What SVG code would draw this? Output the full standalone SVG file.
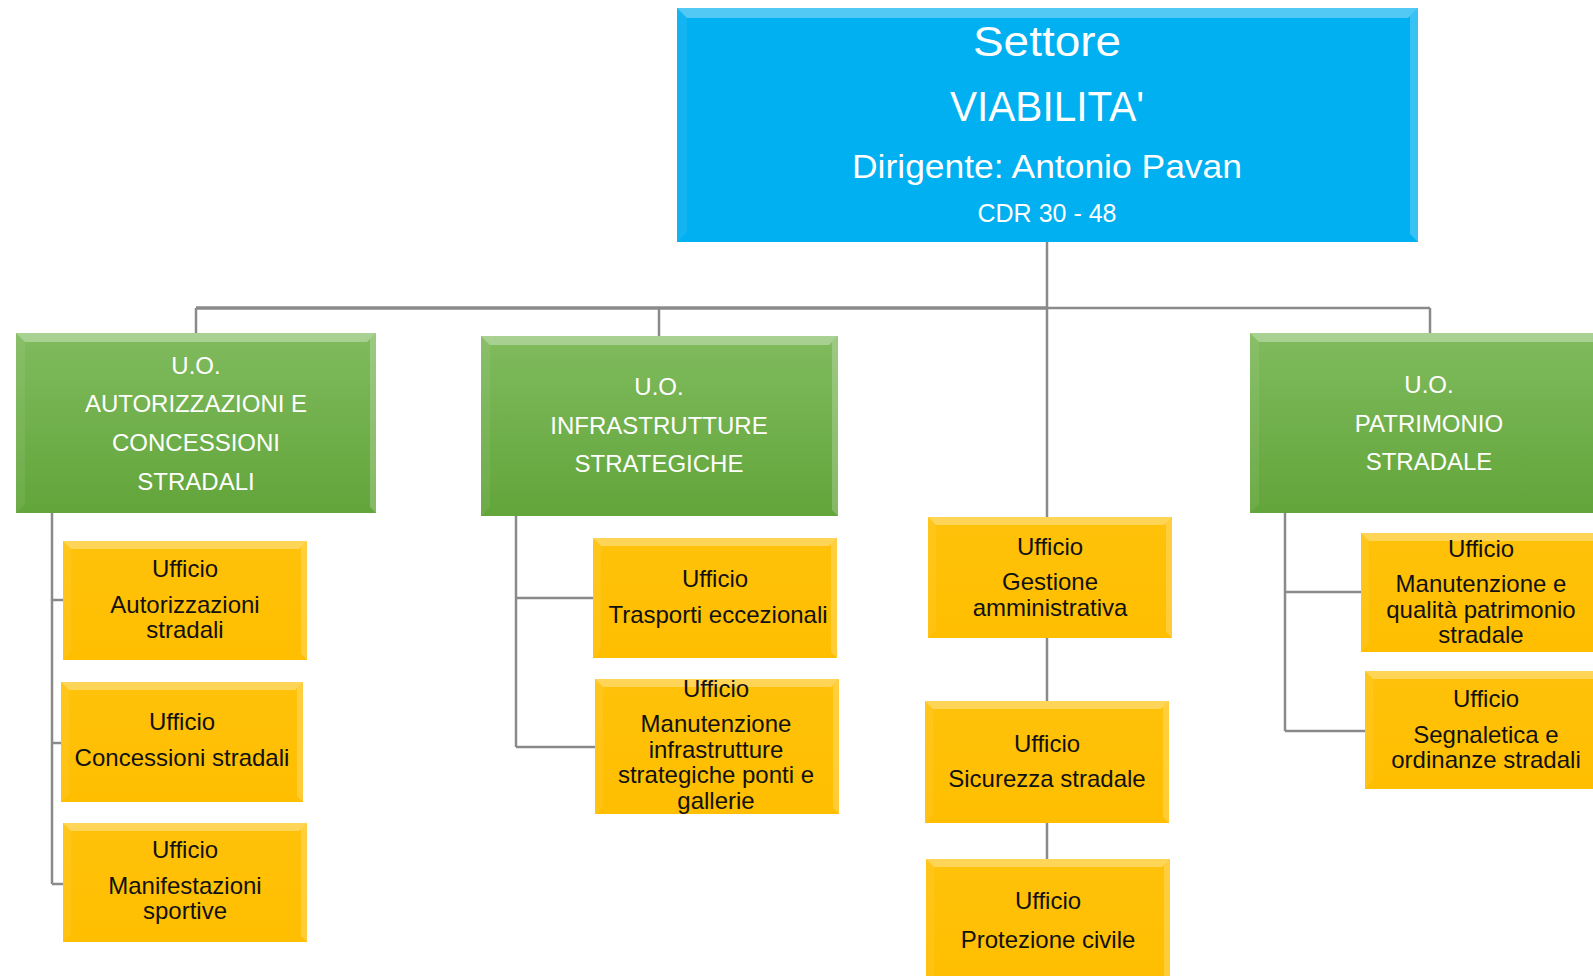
<svg xmlns="http://www.w3.org/2000/svg" width="1593" height="976" viewBox="0 0 1593 976">
<defs>
<linearGradient id="gGreen" x1="0" y1="0" x2="0" y2="1"><stop offset="0" stop-color="#80BB5E"/><stop offset="1" stop-color="#62A53A"/></linearGradient>
<linearGradient id="gYellow" x1="0" y1="0" x2="0" y2="1"><stop offset="0" stop-color="#FFC20A"/><stop offset="1" stop-color="#FFBE00"/></linearGradient>
</defs>
<style>
.blue{fill:#00B0F0}
.green{fill:url(#gGreen)}
.yellow{fill:url(#gYellow)}
.bt{fill:#FFFFFF;fill-opacity:0.32}
.bl{fill:#FFFFFF;fill-opacity:0.07}
.br{fill:#FFFFFF;fill-opacity:0.22}
.conn{fill:none;stroke:#8A8A8A;stroke-width:2.5}
.thick{stroke-width:3.5}
text{font-family:"Liberation Sans",Arial,sans-serif;text-anchor:middle}
.tw{fill:#FFFFFF}
.tg{fill:#FFFFFF;font-size:24px}
.ty{fill:#111111;font-size:24px}
</style>

<g id="connectors">
<path class="conn" d="M1047 242 V308 M1047 308 H1430 M196 308 V333 M659 308 V336 M1430 308 V333 M1047 308 V517 M1047 638 V701 M1047 823 V859"/>
<path class="conn thick" d="M196 308 H1047"/>
<path class="conn" d="M52 513 V884 M52 600 H63 M52 743 H61 M52 884 H63"/>
<path class="conn" d="M516 516 V747 M516 598 H593 M516 747 H595"/>
<path class="conn" d="M1285 513 V731 M1285 592 H1361 M1285 731 H1365"/>
</g>

<g id="settore">
<rect class="blue" x="677" y="8" width="741" height="234"/>
<polygon class="bt" points="677,8 1418,8 1408,18 687,18"/>
<polygon class="bl" points="677,8 687,18 687,232 677,242"/>
<polygon class="br" points="1418,8 1418,242 1410,234 1410,16"/>
<text class="tw" x="1047" y="56" font-size="42" textLength="148" lengthAdjust="spacingAndGlyphs">Settore</text>
<text class="tw" x="1047" y="121" font-size="42" textLength="194" lengthAdjust="spacingAndGlyphs">VIABILITA'</text>
<text class="tw" x="1047" y="178" font-size="34" textLength="390" lengthAdjust="spacingAndGlyphs">Dirigente: Antonio Pavan</text>
<text class="tw" x="1047" y="222" font-size="25" textLength="139" lengthAdjust="spacingAndGlyphs">CDR 30 - 48</text>
</g>

<g id="uo-autorizzazioni">
<rect class="green" x="16" y="333" width="360" height="180"/>
<polygon class="bt" points="16,333 376,333 367,342 25,342"/>
<polygon class="bl" points="16,333 25,342 25,504 16,513"/>
<polygon class="br" points="376,333 376,513 370,507 370,339"/>
<text class="tg" x="196" y="374">U.O.</text>
<text class="tg" x="196" y="412">AUTORIZZAZIONI E</text>
<text class="tg" x="196" y="451">CONCESSIONI</text>
<text class="tg" x="196" y="490">STRADALI</text>
</g>

<g id="uo-infrastrutture">
<rect class="green" x="481" y="336" width="357" height="180"/>
<polygon class="bt" points="481,336 838,336 829,345 490,345"/>
<polygon class="bl" points="481,336 490,345 490,507 481,516"/>
<polygon class="br" points="838,336 838,516 832,510 832,342"/>
<text class="tg" x="659" y="395">U.O.</text>
<text class="tg" x="659" y="434">INFRASTRUTTURE</text>
<text class="tg" x="659" y="472">STRATEGICHE</text>
</g>

<g id="uo-patrimonio">
<rect class="green" x="1250" y="333" width="358" height="180"/>
<polygon class="bt" points="1250,333 1608,333 1599,342 1259,342"/>
<polygon class="bl" points="1250,333 1259,342 1259,504 1250,513"/>
<text class="tg" x="1429" y="393">U.O.</text>
<text class="tg" x="1429" y="432">PATRIMONIO</text>
<text class="tg" x="1429" y="470">STRADALE</text>
</g>

<g id="uff-autorizzazioni">
<rect class="yellow" x="63" y="541" width="244" height="119"/>
<polygon class="bt" points="63,541 307,541 299,549 71,549"/>
<polygon class="bl" points="63,541 71,549 71,652 63,660"/>
<polygon class="br" points="307,541 307,660 301,654 301,547"/>
<text class="ty" x="185" y="577">Ufficio</text>
<text class="ty" x="185" y="613">Autorizzazioni</text>
<text class="ty" x="185" y="638">stradali</text>
</g>

<g id="uff-concessioni">
<rect class="yellow" x="61" y="682" width="242" height="120"/>
<polygon class="bt" points="61,682 303,682 295,690 69,690"/>
<polygon class="bl" points="61,682 69,690 69,794 61,802"/>
<polygon class="br" points="303,682 303,802 297,796 297,688"/>
<text class="ty" x="182" y="730">Ufficio</text>
<text class="ty" x="182" y="766">Concessioni stradali</text>
</g>

<g id="uff-manifestazioni">
<rect class="yellow" x="63" y="823" width="244" height="119"/>
<polygon class="bt" points="63,823 307,823 299,831 71,831"/>
<polygon class="bl" points="63,823 71,831 71,934 63,942"/>
<polygon class="br" points="307,823 307,942 301,936 301,829"/>
<text class="ty" x="185" y="858">Ufficio</text>
<text class="ty" x="185" y="894">Manifestazioni</text>
<text class="ty" x="185" y="919">sportive</text>
</g>

<g id="uff-trasporti">
<rect class="yellow" x="593" y="538" width="244" height="120"/>
<polygon class="bt" points="593,538 837,538 829,546 601,546"/>
<polygon class="bl" points="593,538 601,546 601,650 593,658"/>
<polygon class="br" points="837,538 837,658 831,652 831,544"/>
<text class="ty" x="715" y="587">Ufficio</text>
<text class="ty" x="718" y="623">Trasporti  eccezionali</text>
</g>

<g id="uff-manutenzione-infra">
<rect class="yellow" x="595" y="679" width="244" height="135"/>
<polygon class="bt" points="595,679 839,679 831,687 603,687"/>
<polygon class="bl" points="595,679 603,687 603,806 595,814"/>
<polygon class="br" points="839,679 839,814 833,808 833,685"/>
<text class="ty" x="716" y="697">Ufficio</text>
<text class="ty" x="716" y="732">Manutenzione</text>
<text class="ty" x="716" y="758">infrastrutture</text>
<text class="ty" x="716" y="783">strategiche ponti e</text>
<text class="ty" x="716" y="809">gallerie</text>
</g>

<g id="uff-gestione">
<rect class="yellow" x="928" y="517" width="244" height="121"/>
<polygon class="bt" points="928,517 1172,517 1164,525 936,525"/>
<polygon class="bl" points="928,517 936,525 936,630 928,638"/>
<polygon class="br" points="1172,517 1172,638 1166,632 1166,523"/>
<text class="ty" x="1050" y="555">Ufficio</text>
<text class="ty" x="1050" y="590">Gestione</text>
<text class="ty" x="1050" y="616">amministrativa</text>
</g>

<g id="uff-sicurezza">
<rect class="yellow" x="925" y="701" width="244" height="122"/>
<polygon class="bt" points="925,701 1169,701 1161,709 933,709"/>
<polygon class="bl" points="925,701 933,709 933,815 925,823"/>
<polygon class="br" points="1169,701 1169,823 1163,817 1163,707"/>
<text class="ty" x="1047" y="752">Ufficio</text>
<text class="ty" x="1047" y="787">Sicurezza stradale</text>
</g>

<g id="uff-protezione">
<rect class="yellow" x="926" y="859" width="244" height="125"/>
<polygon class="bt" points="926,859 1170,859 1162,867 934,867"/>
<polygon class="bl" points="926,859 934,867 934,976 926,984"/>
<polygon class="br" points="1170,859 1170,984 1164,978 1164,865"/>
<text class="ty" x="1048" y="909" font-size="25">Ufficio</text>
<text class="ty" x="1048" y="948" font-size="25">Protezione civile</text>
</g>

<g id="uff-manutenzione-patrimonio">
<rect class="yellow" x="1361" y="533" width="244" height="119"/>
<polygon class="bt" points="1361,533 1605,533 1597,541 1369,541"/>
<polygon class="bl" points="1361,533 1369,541 1369,644 1361,652"/>
<text class="ty" x="1481" y="557">Ufficio</text>
<text class="ty" x="1481" y="592">Manutenzione e</text>
<text class="ty" x="1481" y="618">qualità patrimonio</text>
<text class="ty" x="1481" y="643">stradale</text>
</g>

<g id="uff-segnaletica">
<rect class="yellow" x="1365" y="671" width="244" height="118"/>
<polygon class="bt" points="1365,671 1609,671 1601,679 1373,679"/>
<polygon class="bl" points="1365,671 1373,679 1373,781 1365,789"/>
<text class="ty" x="1486" y="707">Ufficio</text>
<text class="ty" x="1486" y="743">Segnaletica e</text>
<text class="ty" x="1486" y="768">ordinanze stradali</text>
</g>
</svg>
